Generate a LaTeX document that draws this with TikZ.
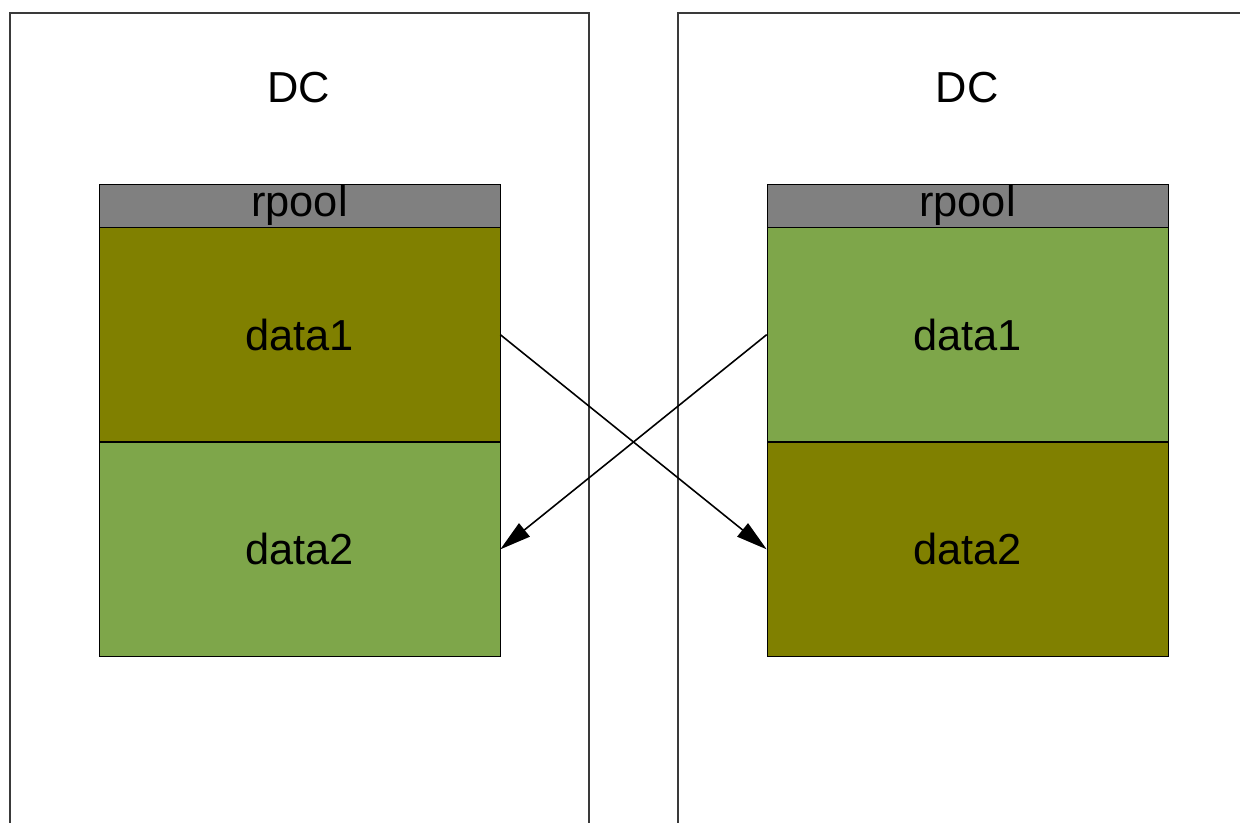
\documentclass[tikz,border=0pt]{standalone}
\usepackage{fontspec}
\setmainfont{Liberation Sans}
\usetikzlibrary{arrows.meta,positioning}

\definecolor{olivefill}{HTML}{808000}
\definecolor{greenfill}{HTML}{7EA64A}
\definecolor{poolfill}{HTML}{808080}
\definecolor{dcline}{HTML}{3A3A3A}

\tikzset{
  dclabel/.style={font=\fontsize{24.7}{30}\selectfont},
  poolbox/.style={draw=black, fill=poolfill, minimum width=8.02cm, minimum height=0.86cm, inner sep=0pt, font=\fontsize{24.7}{30}\selectfont},
  databox/.style={draw=black, minimum width=8.02cm, minimum height=4.28cm, inner sep=0pt, font=\fontsize{24.7}{30}\selectfont},
  moveline/.style={black, line width=0.9pt, -{Triangle[length=0.62cm,width=0.34cm]}}
}

\begin{document}
\begin{tikzpicture}[x=0.02cm,y=-0.02cm]
\clip (0,0) rectangle (1240,822);
\useasboundingbox (0,0) rectangle (1240,822);
\fill[white] (0,0) rectangle (1240,822);
% the two datacenters
\draw[dcline, line width=0.8pt] (10,13) rectangle (589,900);
\draw[dcline, line width=0.8pt] (678,13) rectangle (1300,900);
\node[dclabel] (dcA) at (299,88) {DC};
\node[dclabel] (dcB) at (967,88) {DC};
% left pool
\node[poolbox] (rpoolA) at (299.5,205.5) {\raisebox{-2pt}{rpool}};
\node[databox, fill=olivefill, below=0pt of rpoolA] (dataAone) {data1};
\node[databox, fill=greenfill, below=0pt of dataAone] (dataAtwo) {data2};
% right pool
\node[poolbox] (rpoolB) at (967.5,205.5) {\raisebox{-2pt}{rpool}};
\node[databox, fill=greenfill, below=0pt of rpoolB] (dataBone) {data1};
\node[databox, fill=olivefill, below=0pt of dataBone] (dataBtwo) {data2};
% replication
\draw[moveline] (dataAone.east) -- (dataBtwo.west);
\draw[moveline] (dataBone.west) -- (dataAtwo.east);
\end{tikzpicture}
\end{document}
